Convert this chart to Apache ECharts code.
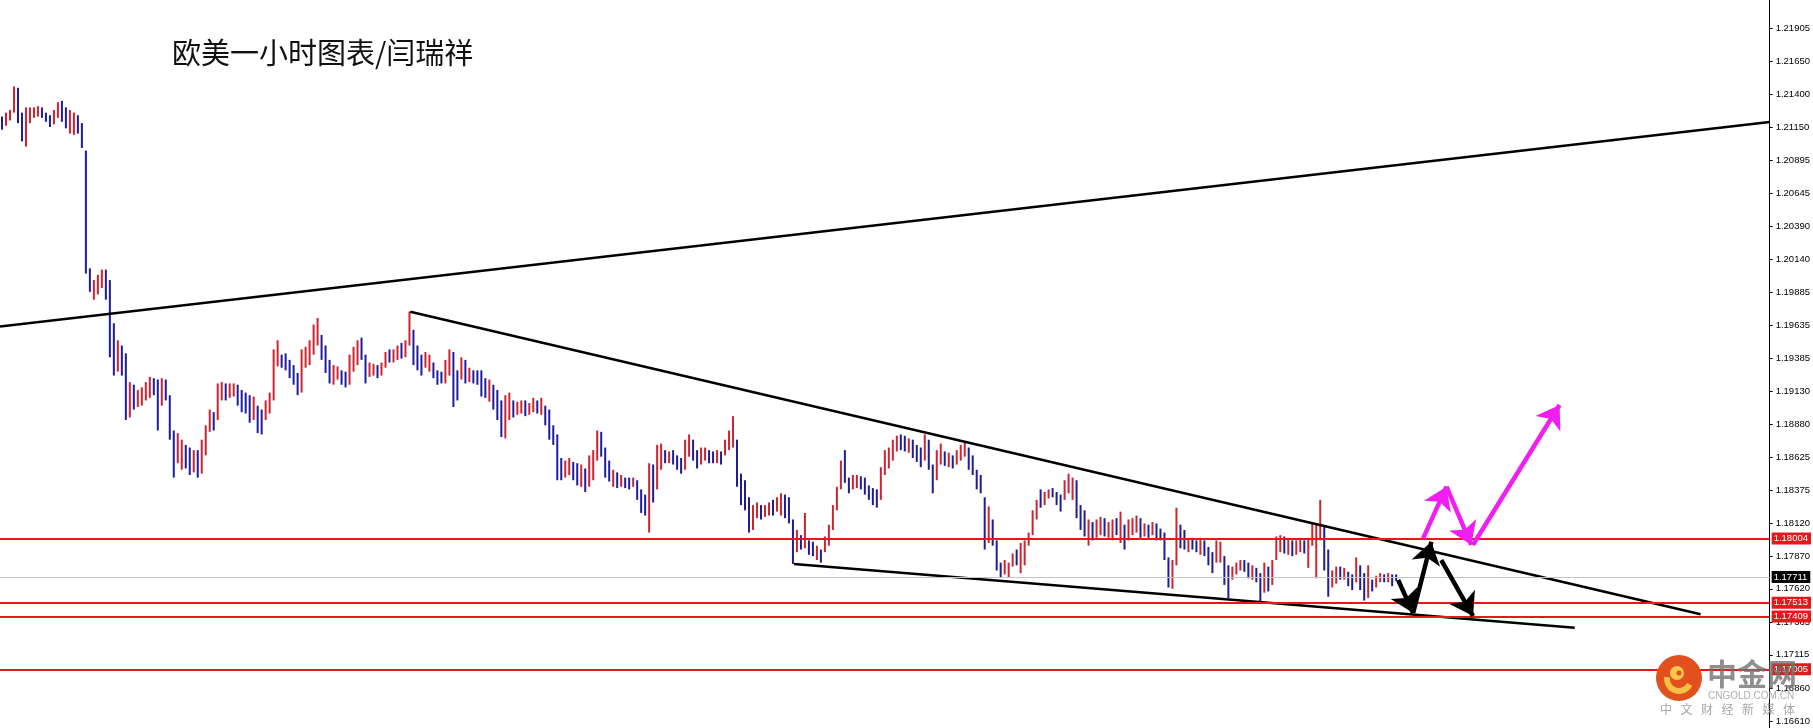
<!DOCTYPE html>
<html>
<head>
<meta charset="utf-8">
<title>欧美一小时图表</title>
<script src="https://cdn.jsdelivr.net/npm/echarts@6/dist/echarts.min.js"></script>
<style>
  html, body { margin: 0; padding: 0; background: #fff; }
  #chart { width: 1813px; height: 728px; }
</style>
</head>
<body>
<div id="chart"></div>
<script>
// 每根柱子的最高价 / 最低价（按时间顺序）
const highs = [
  1.2123,1.2126,1.2128,1.2146,1.2145,1.2126,1.2130,1.2130,1.2130,1.2131,
  1.2130,1.2126,1.2124,1.2128,1.2134,1.2135,1.2130,1.2128,1.2126,1.2124,
  1.2118,1.2097,1.2007,1.1998,1.2002,1.2006,1.2006,1.1998,1.1965,1.1952,
  1.1948,1.1942,1.1920,1.1918,1.1914,1.1916,1.1920,1.1924,1.1923,1.1922,
  1.1923,1.1922,1.1910,1.1883,1.1881,1.1876,1.1872,1.1870,1.1868,1.1868,
  1.1876,1.1887,1.1899,1.1897,1.1919,1.1920,1.1919,1.1919,1.1919,1.1918,
  1.1914,1.1912,1.1910,1.1909,1.1902,1.1899,1.1906,1.1912,1.1945,1.1952,
  1.1941,1.1942,1.1937,1.1933,1.1927,1.1945,1.1947,1.1952,1.1964,1.1969,
  1.1956,1.1948,1.1937,1.1933,1.1932,1.1929,1.1928,1.1941,1.1947,1.1952,
  1.1954,1.1941,1.1935,1.1934,1.1933,1.1935,1.1943,1.1945,1.1945,1.1948,
  1.1950,1.1952,1.1974,1.1960,1.1948,1.1941,1.1943,1.1941,1.1935,1.1929,
  1.1928,1.1937,1.1945,1.1943,1.1929,1.1939,1.1937,1.1931,1.1929,1.1929,
  1.1929,1.1923,1.1922,1.1918,1.1914,1.1906,1.1910,1.1912,1.1906,1.1905,
  1.1906,1.1906,1.1904,1.1908,1.1906,1.1908,1.1902,1.1899,1.1887,1.1880,
  1.1862,1.1860,1.1862,1.1859,1.1858,1.1857,1.1854,1.1864,1.1868,1.1883,
  1.1882,1.1870,1.1860,1.1853,1.1851,1.1849,1.1847,1.1847,1.1847,1.1845,
  1.1838,1.1834,1.1858,1.1857,1.1872,1.1873,1.1868,1.1867,1.1868,1.1864,
  1.1862,1.1876,1.1880,1.1876,1.1868,1.1870,1.1870,1.1868,1.1867,1.1868,
  1.1867,1.1876,1.1883,1.1894,1.1876,1.1850,1.1845,1.1832,1.1826,1.1828,
  1.1826,1.1826,1.1828,1.1830,1.1832,1.1835,1.1834,1.1832,1.1815,1.1807,
  1.1803,1.1820,1.1799,1.1798,1.1795,1.1792,1.1802,1.1811,1.1826,1.1840,
  1.1860,1.1868,1.1847,1.1849,1.1849,1.1848,1.1847,1.1841,1.1839,1.1838,
  1.1855,1.1868,1.1870,1.1876,1.1879,1.1880,1.1879,1.1877,1.1876,1.1872,
  1.1870,1.1880,1.1876,1.1857,1.1868,1.1873,1.1867,1.1866,1.1864,1.1868,
  1.1872,1.1874,1.1870,1.1864,1.1853,1.1849,1.1832,1.1825,1.1815,1.1799,
  1.1782,1.1784,1.1782,1.1789,1.1792,1.1797,1.1799,1.1805,1.1822,1.1830,
  1.1838,1.1836,1.1838,1.1839,1.1836,1.1834,1.1845,1.1850,1.1847,1.1845,
  1.1826,1.1822,1.1815,1.1813,1.1815,1.1817,1.1816,1.1813,1.1815,1.1816,
  1.1821,1.1811,1.1815,1.1816,1.1818,1.1816,1.1812,1.1811,1.1813,1.1812,
  1.1808,1.1805,1.1786,1.1784,1.1824,1.1811,1.1807,1.1801,1.1801,1.1799,
  1.1801,1.1799,1.1794,1.1790,1.1799,1.1798,1.1787,1.1780,1.1779,1.1782,
  1.1784,1.1784,1.1782,1.1780,1.1778,1.1774,1.1782,1.1779,1.1784,1.1802,
  1.1803,1.1802,1.1801,1.1799,1.1799,1.1801,1.1799,1.1801,1.1812,1.1812,
  1.1830,1.1810,1.1792,1.1776,1.1779,1.1779,1.1778,1.1775,1.1773,1.1786,
  1.1780,1.1774,1.1780,1.1769,1.1772,1.1774,1.1773,1.1774,1.1773,1.1773
];
const lows = [
  1.2113,1.2116,1.2120,1.2126,1.2118,1.2104,1.2100,1.2118,1.2122,1.2123,
  1.2122,1.2119,1.2115,1.2117,1.2122,1.2119,1.2114,1.2110,1.2109,1.2110,
  1.2099,1.2003,1.1989,1.1983,1.1987,1.1992,1.1983,1.1939,1.1925,1.1928,
  1.1925,1.1891,1.1893,1.1899,1.1901,1.1902,1.1906,1.1908,1.1910,1.1883,
  1.1902,1.1906,1.1876,1.1847,1.1858,1.1853,1.1854,1.1849,1.1851,1.1847,
  1.1850,1.1864,1.1882,1.1883,1.1891,1.1906,1.1906,1.1908,1.1909,1.1902,
  1.1897,1.1896,1.1889,1.1891,1.1881,1.1880,1.1891,1.1896,1.1906,1.1932,
  1.1931,1.1929,1.1923,1.1918,1.1910,1.1912,1.1931,1.1933,1.1941,1.1948,
  1.1937,1.1927,1.1919,1.1918,1.1922,1.1918,1.1916,1.1918,1.1928,1.1933,
  1.1937,1.1919,1.1924,1.1925,1.1923,1.1925,1.1931,1.1935,1.1935,1.1937,
  1.1938,1.1939,1.1948,1.1933,1.1929,1.1925,1.1931,1.1928,1.1923,1.1918,
  1.1919,1.1919,1.1925,1.1901,1.1906,1.1922,1.1919,1.1920,1.1919,1.1918,
  1.1909,1.1908,1.1905,1.1899,1.1891,1.1878,1.1877,1.1891,1.1893,1.1895,
  1.1896,1.1894,1.1895,1.1897,1.1896,1.1895,1.1887,1.1876,1.1872,1.1845,
  1.1845,1.1847,1.1849,1.1845,1.1841,1.1840,1.1836,1.1840,1.1845,1.1860,
  1.1863,1.1847,1.1844,1.1840,1.1839,1.1840,1.1839,1.1838,1.1840,1.1830,
  1.1820,1.1818,1.1805,1.1828,1.1838,1.1853,1.1858,1.1858,1.1857,1.1853,
  1.1850,1.1853,1.1863,1.1860,1.1854,1.1857,1.1860,1.1858,1.1858,1.1858,
  1.1857,1.1864,1.1868,1.1870,1.1840,1.1826,1.1822,1.1805,1.1807,1.1816,
  1.1815,1.1817,1.1818,1.1818,1.1821,1.1818,1.1816,1.1812,1.1781,1.1790,
  1.1792,1.1793,1.1788,1.1787,1.1784,1.1782,1.1790,1.1795,1.1807,1.1822,
  1.1838,1.1843,1.1835,1.1838,1.1839,1.1838,1.1834,1.1830,1.1826,1.1824,
  1.1830,1.1849,1.1854,1.1860,1.1867,1.1868,1.1867,1.1866,1.1862,1.1859,
  1.1855,1.1860,1.1853,1.1835,1.1845,1.1857,1.1856,1.1855,1.1854,1.1857,
  1.1860,1.1863,1.1853,1.1849,1.1838,1.1835,1.1792,1.1797,1.1795,1.1776,
  1.1771,1.1773,1.1771,1.1779,1.1780,1.1774,1.1780,1.1795,1.1803,1.1815,
  1.1824,1.1826,1.1831,1.1832,1.1826,1.1821,1.1830,1.1835,1.1830,1.1816,
  1.1807,1.1802,1.1795,1.1799,1.1801,1.1803,1.1802,1.1801,1.1799,1.1803,
  1.1797,1.1792,1.1799,1.1803,1.1805,1.1801,1.1802,1.1801,1.1803,1.1799,
  1.1799,1.1784,1.1763,1.1762,1.1780,1.1793,1.1792,1.1790,1.1792,1.1790,
  1.1788,1.1787,1.1780,1.1774,1.1782,1.1782,1.1765,1.1755,1.1769,1.1773,
  1.1776,1.1775,1.1770,1.1769,1.1767,1.1752,1.1759,1.1760,1.1765,1.1784,
  1.1790,1.1789,1.1788,1.1787,1.1788,1.1790,1.1789,1.1778,1.1795,1.1770,
  1.1799,1.1776,1.1756,1.1763,1.1766,1.1769,1.1769,1.1764,1.1761,1.1767,
  1.1761,1.1753,1.1755,1.1760,1.1763,1.1767,1.1767,1.1767,1.1764,1.1768
];
// 1 = 阳线(红)  0 = 阴线(蓝)
const upBar = [
  0,1,1,1,0,0,1,1,1,1, 0,0,0,1,1,0,0,1,1,0, 0,0,0,1,1,1,0,0,0,1,
  0,0,1,0,1,1,1,1,0,0, 1,0,0,0,1,1,0,0,1,0, 1,1,1,0,1,1,0,1,1,0,
  0,0,0,1,0,0,1,1,1,1, 0,0,0,0,0,1,1,1,1,1, 0,0,0,1,1,0,0,1,1,1,
  0,0,1,1,0,1,1,0,1,1, 0,1,1,0,0,0,1,1,0,0, 0,1,1,0,0,1,0,1,0,0,
  0,0,1,0,0,0,1,1,0,1, 1,0,1,1,0,1,0,0,0,0, 0,1,1,0,0,1,0,1,1,1,
  0,0,0,1,0,1,0,0,1,0, 0,0,1,0,1,1,0,1,0,0, 0,1,1,0,0,1,1,0,0,1,
  0,1,1,1,0,0,0,0,1,1, 0,1,1,0,1,1,0,0,0,1, 0,1,0,0,1,0,1,1,1,1,
  1,0,0,1,1,0,0,0,0,0, 1,1,1,1,1,0,0,1,0,0, 0,1,0,0,1,1,0,1,0,1,
  1,1,0,0,0,0,0,1,0,0, 0,1,1,1,0,1,1,1,1,1, 0,1,1,0,0,0,1,1,1,0,
  0,0,1,0,1,1,0,1,1,0, 1,0,1,1,1,0,1,0,1,0, 0,0,0,1,1,0,0,1,0,0,
  1,0,0,0,1,1,0,0,1,1, 1,0,0,1,0,0,1,0,1,1, 1,0,1,0,1,1,0,1,1,1,
  1,0,0,1,1,0,1,0,0,1, 0,0,1,0,1,1,0,1,0,0
];
const priceTicks = [1.21905, 1.21650, 1.21400, 1.21150, 1.20895, 1.20645, 1.20390, 1.20140,
  1.19885, 1.19635, 1.19385, 1.19130, 1.18880, 1.18625, 1.18375, 1.18120, 1.17870, 1.17620,
  1.17365, 1.17115, 1.16860, 1.16610];
const redLevels = [1.18004, 1.17513, 1.17409, 1.17005];
const lastPrice = 1.17711;

// 画线 [柱序号, 价格]
const riseLine = [[-0.5, 1.19625], [442.5, 1.21188]];
const topLine = [[102.2, 1.19738], [425.2, 1.17425]];
const bottomLine = [[198.25, 1.17809], [393.7, 1.17323]];
const blackArrows = [
  [[349.5, 1.17687], [353.25, 1.17435]],
  [[353.25, 1.17435], [357.8, 1.17980]],
  [[360.3, 1.17840], [368.25, 1.17412]]
];
const pinkArrows = [
  [[355.75, 1.18006], [361.6, 1.18401]],
  [[361.6, 1.18401], [367.8, 1.17955]],
  [[368.2, 1.17955], [389.9, 1.19025]]
];

const upColor = '#cf2330';
const downColor = '#1d1d9c';
const levelRed = '#e3191c';

const chart = echarts.init(document.getElementById('chart'));
const barData = highs.map((h, i) => [i, lows[i], h, upBar[i]]);

// 水印
const wmChars = '中文财经新媒体'.split('').map((c, i) => ({
  type: 'text', x: 1660 + i * 20.5, y: 703, z: 100,
  style: { text: c, font: '12px "Noto Sans CJK SC"', fill: 'rgba(150,150,150,0.85)' }
}));

const levelLines = redLevels.map(v => ({
  yAxis: v, name: v.toFixed(5),
  lineStyle: { color: levelRed, width: 2, type: 'solid' }
}));
levelLines.push({
  yAxis: lastPrice, name: lastPrice.toFixed(5),
  lineStyle: { color: '#c3c3c3', width: 1, type: 'solid' },
  label: { backgroundColor: '#000' }
});

const option = {
  animation: false,
  backgroundColor: '#fff',
  grid: { left: 0, right: 41, top: 0, bottom: 0 },
  xAxis: { type: 'value', min: -0.5, max: 442.5, show: false },
  yAxis: {
    type: 'value', position: 'right', min: 1.16556, max: 1.22121,
    axisLine: { show: true, onZero: false, lineStyle: { color: '#000', width: 1 } },
    axisTick: { show: true, length: 3, lineStyle: { color: '#000' }, customValues: priceTicks },
    axisLabel: {
      customValues: priceTicks, formatter: v => v.toFixed(5),
      color: '#000', fontSize: 9.5, fontFamily: 'Liberation Sans', margin: 6
    },
    splitLine: { show: false }
  },
  graphic: [
    { type: 'text', left: 172, top: 38,
      style: { text: '欧美一小时图表/闫瑞祥', font: '29px "Noto Sans CJK SC"', fill: '#111' } },
    { type: 'circle', z: 100, shape: { cx: 1679, cy: 678, r: 23 }, style: { fill: '#e2501e' } },
    { type: 'arc', z: 101, shape: { cx: 1679, cy: 679, r: 12, startAngle: 0.15 * Math.PI, endAngle: 1.05 * Math.PI },
      style: { stroke: '#f6bf45', lineWidth: 6, fill: 'none' } },
    { type: 'circle', z: 101, shape: { cx: 1677, cy: 673, r: 7 }, style: { fill: '#f8c84e' } },
    { type: 'circle', z: 102, shape: { cx: 1679, cy: 673, r: 2.5 }, style: { fill: '#e2501e' } },
    { type: 'text', x: 1707, y: 659, z: 100,
      style: { text: '中金网', font: 'bold 30px "Noto Sans CJK SC"', fill: 'rgba(115,115,115,0.8)' } },
    { type: 'text', x: 1708, y: 691, z: 100,
      style: { text: 'CNGOLD.COM.CN', font: '10px "Liberation Sans"', fill: 'rgba(160,160,160,0.85)' } }
  ].concat(wmChars),
  series: [
    {
      type: 'custom',
      name: 'EURUSD H1',
      data: barData,
      encode: { x: 0, y: [1, 2] },
      z: 2,
      renderItem: (params, api) => {
        const lo = api.coord([api.value(0), api.value(1)]);
        const hi = api.coord([api.value(0), api.value(2)]);
        return {
          type: 'line',
          shape: { x1: lo[0], y1: lo[1], x2: hi[0], y2: hi[1] },
          style: { stroke: api.value(3) ? upColor : downColor, lineWidth: 2 }
        };
      }
    },
    {
      type: 'line', name: 'levels', data: [], z: 3,
      markLine: {
        silent: true,
        precision: 5,
        symbol: ['none', 'none'],
        label: {
          show: true, position: 'end', formatter: '{b}', distance: 2,
          color: '#fff', fontSize: 9.5, fontFamily: 'Liberation Sans',
          padding: [1, 3, 1, 2], backgroundColor: levelRed
        },
        data: levelLines
      }
    },
    ...[riseLine, topLine, bottomLine].map(d => ({
      type: 'line', data: d, symbol: 'none', z: 4,
      lineStyle: { color: '#000', width: 2.5 }
    })),
    {
      type: 'lines', coordinateSystem: 'cartesian2d', z: 5,
      data: blackArrows.map(c => ({ coords: c })),
      symbol: ['none', 'arrow'], symbolSize: [15, 22],
      lineStyle: { color: '#000', width: 4.5, opacity: 1, curveness: 0 }
    },
    {
      type: 'lines', coordinateSystem: 'cartesian2d', z: 5,
      data: pinkArrows.map(c => ({ coords: c })),
      symbol: ['none', 'arrow'], symbolSize: [15, 22],
      lineStyle: { color: '#f01ef0', width: 4.5, opacity: 1, curveness: 0 }
    }
  ]
};
chart.setOption(option);
</script>
</body>
</html>
